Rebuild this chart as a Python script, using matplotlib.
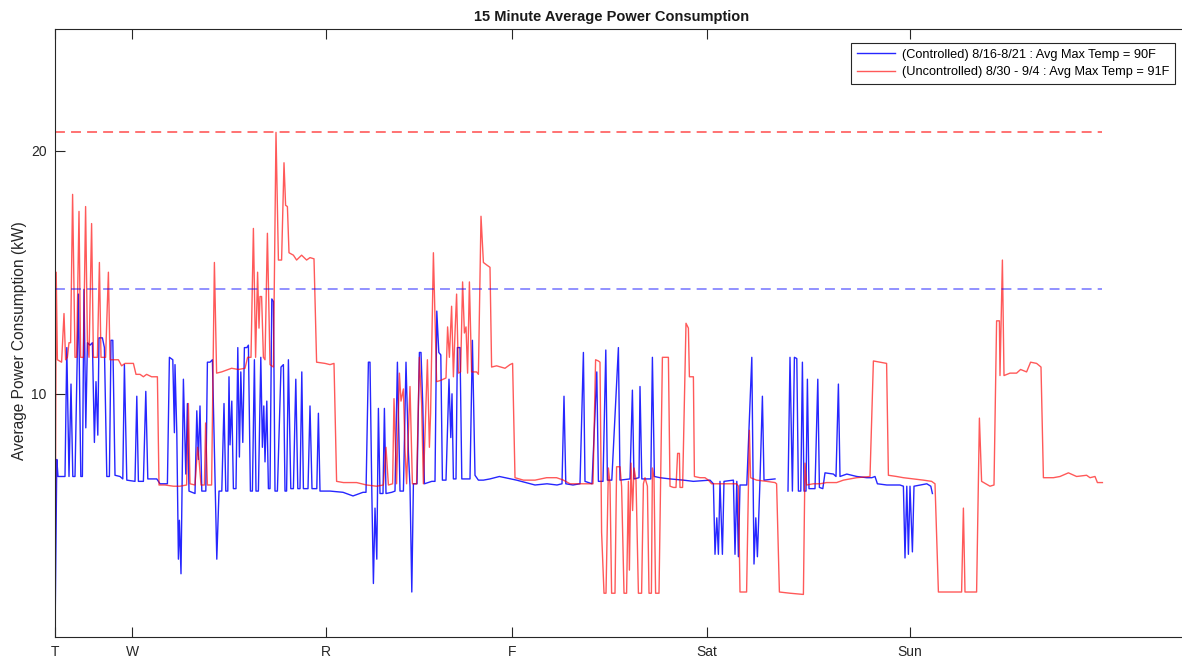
import matplotlib
matplotlib.use("Agg")
import matplotlib.pyplot as plt
import numpy as np

# x = 15 minute sample number, y = average power (kW)
blue_x = [0, 0.9, 1.5, 5, 5.9, 7, 8, 8.9, 10, 11.7, 12.9, 13.7, 14.5, 15.4, 16.2, 17.5, 18.7,
          19.7, 20.5, 21.4, 22, 23.7, 24.7, 25.9, 27.2, 28, 28.9, 30, 32.5, 33.9, 34.7, 35.9,
          40, 40.9, 41.7, 44.2, 45.4, 46.4, 50.9, 52.5, 56.2, 57.2, 58.9, 59.7, 60, 60.9,
          61.7, 62.2, 63, 64.2, 65.4, 66.2, 67, 70, 70.9, 71.7, 72.5, 73.4, 75.4, 76.2, 77.5,
          78.7, 80.9, 82, 83.4, 84.5, 85.4, 86.4, 87, 87.5, 88.4, 89.2, 90.5, 91.4, 92.2,
          92.9, 93.9, 94.7, 95.9, 96.7, 97.7, 98.7, 99.7, 100.5, 101.7, 102.9, 103.7, 104.4,
          105, 105.9, 106.7, 107.5, 108.4, 109.2, 110, 111.2, 113, 114.2, 115, 115.8, 116.7,
          117.9, 119.2, 120.4, 121.4, 122.5, 123.4, 124.2, 126.5, 127.5, 128.5, 130.9, 131.7,
          132.5, 137.5, 144, 149, 154, 155.5, 156.7, 157.5, 158.4, 159.2, 160, 160.9, 161.7,
          162.5, 164, 164.7, 165.5, 168.4, 170, 171.2, 172.5, 174.2, 175.5, 176.7, 177.5,
          178.4, 179.2, 181, 182.2, 183, 183.9, 184.7, 188.4, 190, 190.9, 191.9, 192.9,
          193.7, 195.5, 197, 197.9, 198.5, 199.2, 200.5, 201.2, 202.5, 203.4, 207.5, 208.7,
          210, 211.7, 214.2, 217.5, 222.2, 230.8, 240, 246, 251, 253.5, 254.5, 255.4, 259,
          262.5, 264.2, 265, 268.5, 270.9, 271.7, 274, 275.4, 276.2, 278.4, 281.7, 282.5,
          287.5, 288.7, 289.5, 292, 292.5, 293.4, 297.9, 298.7, 299.7, 302.5, 307.5, 314.2,
          319.2, 327.5, 329.2, 330, 330.9, 331.7, 332.5, 333.7, 334.5, 339.2, 340, 340.9,
          341.7, 342.5, 345.9, 348.4, 349.5, 350.4, 351.2, 352.5, 353.7, 354.5, 360, 363,
          366.5, 367.5, 368.7, 369.7, 370.9, 371.7, 372.9, 373.7, 374.5, 375.5, 376.2, 377,
          380, 381.4, 382.2, 383.9, 385, 389.2, 390.5, 391.7, 392.5, 395.9, 400.9, 405.9,
          408.4, 410, 411.2, 415.9, 422.5, 424.2, 425, 425.9, 426.7, 427.5, 428.7, 429.5,
          435.9, 437.9, 438.7]
blue_y = [0, 7.3, 6.6, 6.6, 11.9, 6.6, 10.4, 6.6, 6.6, 14.1, 6.6, 6.6, 14.3, 8.6, 12.1, 12.0, 12.1,
          8.0, 10.5, 8.3, 12.3, 12.3, 11.9, 6.6, 6.6, 12.2, 12.2, 6.65, 6.6, 6.5, 11.2, 6.45,
          6.4, 9.9, 6.4, 6.4, 10.1, 6.5, 6.5, 6.3, 6.3, 11.5, 11.4, 8.4, 11.2, 8.4,
          3.2, 4.8, 2.6, 10.6, 6.7, 9.6, 6.0, 5.9, 9.3, 7.3, 9.5, 6.0, 6.0, 11.3, 11.3,
          11.4, 3.2, 6.0, 6.0, 9.6, 6.0, 6.0, 10.7, 7.9, 9.7, 6.1, 6.1, 11.9, 7.4,
          10.9, 8.0, 11.9, 11.9, 12.0, 6.0, 6.0, 11.4, 6.0, 6.0, 11.5, 7.8, 9.5,
          7.2, 9.7, 6.1, 6.1, 13.9, 13.8, 6.0, 6.0, 11.1, 11.2, 6.0, 6.0, 11.4,
          6.1, 6.1, 10.6, 6.1, 6.1, 10.9, 6.1, 6.1, 9.5, 6.1, 6.1, 9.2,
          6.0, 6.0, 5.95, 5.8, 5.95, 5.95, 11.3, 11.3, 6.0, 2.2, 5.3, 3.2, 9.4,
          5.9, 5.9, 9.4, 5.9, 5.95, 6.0, 11.3, 6.0, 6.0, 11.3, 7.6, 6.2,
          1.85, 6.3, 6.3, 11.7, 11.7, 9.5, 6.3, 6.4, 6.4, 13.4, 11.7, 11.6,
          6.45, 6.45, 10.6, 8.2, 10.0, 6.5, 6.5, 11.9, 11.9, 6.5, 6.5, 12.2,
          6.65, 6.45, 6.45, 6.5, 6.6, 6.45, 6.25, 6.3, 6.25, 6.3, 9.9, 6.3, 6.25,
          6.3, 11.7, 6.4, 6.3, 10.9, 6.4, 6.4, 11.8, 6.45, 6.45, 11.9, 6.45,
          6.5, 10.15, 6.5, 6.55, 10.3, 6.5, 6.5, 11.5, 6.6, 6.55, 6.5, 6.45,
          6.4, 6.45, 6.3, 3.4, 4.9, 3.4, 6.4, 3.4, 6.4, 6.45, 3.4, 6.4,
          3.3, 6.25, 6.25, 11.5, 3.0, 4.9, 3.3, 6.45, 9.9, 6.45, 6.5, np.nan,
          6.0, 11.5, 6.0, 11.5, 11.45, 6.0, 6.0, 11.3, 6.0, 6.0, 10.6, 6.1,
          6.1, 10.6, 6.15, 6.1, 6.75, 6.7, 6.6, 10.4, 6.6, 6.7, 6.6, 6.55,
          6.55, 6.6, 6.3, 6.25, 6.25, 6.2, 3.25, 6.2, 3.4, 6.2, 3.5, 6.2,
          6.3, 6.2, 5.9]

red_x = [0, 0.6, 1.2, 3.3, 4.5, 5.3, 6.2, 7, 7.8, 8.8, 10, 10.8, 12, 12.8, 14.2, 15.3, 16.2, 17,
         17.5, 18.3, 19.2, 21.2, 22.2, 23, 25.3, 26.7, 27.5, 31.7, 33.3, 35, 39.2, 40.5, 42.5,
         44.2, 45.8, 48.3, 51.2, 52, 55, 59.2, 62.5, 65.8, 66.7, 67.5, 70, 71.3, 72, 73, 74.7,
         75.3, 76.2, 78.3, 79.7, 80.8, 83.3, 85, 88.3, 91.7, 95, 96.3, 98, 99.2, 100.3, 101.3,
         102, 102.5, 103.3, 104.2, 105, 106.2, 107.5, 109.2, 110.5, 111.7, 113.3, 114.5, 115.3,
         116.2, 117, 119.2, 120.8, 123.3, 125.8, 127.5, 129.5, 130.8, 135, 137.5, 139.5, 140.8,
         144.2, 150.8, 155.8, 160.8, 164.2, 165.5, 166.7, 168.8, 169.5, 170.8, 172.2, 173,
         174.2, 175, 175.8, 177.5, 178.7, 180.8, 182.2, 183.3, 184.2, 186.2, 187.2, 187.8,
         189.2, 190.8, 192.8, 195.5, 196.3, 197.2, 198.3, 199.2, 200, 200.8, 201.7, 202.8,
         203.8, 204.7, 205.5, 206.3, 207.2, 208.3, 210.8, 211.7, 213, 214.2, 215.8, 217.5,
         218.3, 220.8, 225, 227.5, 228.8, 230, 234.2, 240, 245.8, 250.8, 254.2, 257.5, 262.5,
         269, 270.3, 271.7, 272.5, 273.3, 274.5, 275.5, 276.7, 277.5, 278.3, 280, 280.8,
         282.5, 283.3, 284.5, 285.8, 286.7, 287.2, 288, 288.8, 289.5, 290.5, 291.7, 293.3,
         294.2, 295, 296.2, 297, 298.2, 298.7, 299.5, 300.3, 302, 303.7, 306.7, 307.5, 309.2,
         310.5, 311.3, 312.2, 312.5, 313.8, 315.5, 316.7, 317.2, 319.2, 319.7, 322.5, 325,
         326.7, 328.3, 334.2, 340.8, 341.7, 342.5, 345.8, 346.7, 347.2, 347.8, 350.8, 355.8,
         360, 360.8, 362.2, 367.5, 374.2, 375, 375.8, 379.2, 382.5, 385.8, 390.8, 394.2,
         400.8, 407.5, 409.2, 412.5, 415.8, 416.7, 420.8, 424.2, 429.2, 434.2, 438.3, 440,
         441.7, 453.3, 454.2, 455, 460.8, 462.2, 463.3, 467.5, 469.5, 470.8, 472.2, 472.5,
         473.7, 474.5, 477.5, 480.8, 482.8, 485.8, 487.8, 490.8, 493, 494.2, 499.2, 502.5,
         506.7, 510.8, 515.8, 517.5, 520, 521.2, 523.7]
red_y = [0, 15.0, 11.4, 11.3, 13.3, 11.4, 11.5, 12.1, 12.1, 18.2, 11.5, 11.5, 17.5, 11.5, 11.5,
         17.7, 12.2, 11.5, 13.6, 17.0, 11.5, 11.5, 15.4, 11.5, 11.5, 15.0, 11.4, 11.4, 11.15,
         11.25, 11.25, 10.8, 10.8, 10.7, 10.8, 10.7, 10.7, 6.25, 6.25, 6.2, 6.2, 6.25, 9.6,
         6.3, 6.25, 7.8, 7.3, 6.25, 6.25, 8.8, 6.25, 6.25, 15.4, 10.85, 10.9, 10.95, 11.05,
         11.0, 11.05, 11.5, 11.5, 16.8, 11.5, 15.0, 12.7, 14.0, 14.0, 11.5, 11.4, 16.6, 11.2,
         11.1, 20.75, 15.5, 15.5, 19.5, 17.75, 17.7, 15.8, 15.7, 15.5, 15.7, 15.5, 15.6,
         15.55, 11.3, 11.25, 11.2, 11.25, 6.4, 6.35, 6.35, 6.25, 6.2, 6.25, 7.8, 6.25, 6.3,
         9.8, 6.3, 10.85, 9.7, 10.2, 7.7, 6.3, 10.3, 6.3, 6.3, 11.5, 9.6, 6.3, 11.4, 7.8,
         9.2, 15.8, 10.5, 10.55, 10.65, 12.75, 11.5, 13.6, 10.7, 12.5, 14.1, 10.85, 10.9,
         14.6, 12.5, 12.75, 10.85, 14.6, 10.9, 10.9, 10.8, 17.3, 15.4, 15.3, 15.2, 11.1,
         11.15, 11.05, 11.2, 11.25, 6.55, 6.45, 6.45, 6.55, 6.55, 6.45, 6.3, 6.3, 6.3, 11.4,
         11.35, 11.3, 4.3, 1.8, 1.8, 6.95, 6.3, 1.8, 1.8, 7.0, 7.0, 6.2, 1.8, 1.8, 6.4,
         2.75, 7.15, 5.2, 6.95, 6.45, 1.8, 1.8, 6.3, 6.55, 6.2, 1.8, 1.8, 6.95, 6.55, 1.8,
         1.8, 11.5, 11.5, 6.2, 6.15, 6.15, 7.55, 7.55, 6.15, 6.15, 12.9, 12.7, 10.7, 10.7,
         6.6, 6.55, 6.55, 6.45, 6.3, 6.3, 6.3, 6.2, 1.85, 1.85, 6.3, 8.5, 6.55, 6.45, 6.4,
         6.35, 6.3, 1.85, 1.8, 1.75, 7.15, 6.25, 6.3, 6.3, 6.35, 6.35, 6.45, 6.55, 6.6,
         11.35, 11.3, 11.25, 6.65, 6.6, 6.55, 6.5, 6.45, 6.4, 6.3, 1.85, 1.85, 5.3, 1.85,
         1.85, 9.0, 6.4, 6.2, 6.25, 13.0, 13.0, 10.75, 15.5, 10.75, 10.85, 10.85, 11.0, 10.9,
         11.3, 11.25, 11.1, 6.55, 6.55, 6.6, 6.75, 6.6, 6.65, 6.55, 6.6, 6.35, 6.35]

day_ticks = [0, 38.5, 135.5, 228.5, 326, 427.5]
day_labels = ["T", "W", "R", "F", "Sat", "Sun"]

blue_label = "(Controlled) 8/16-8/21 : Avg Max Temp = 90F"
red_label = "(Uncontrolled) 8/30 - 9/4 : Avg Max Temp = 91F"

plt.rcParams["font.family"] = ["Liberation Sans", "DejaVu Sans"]

fig = plt.figure(figsize=(11.82, 6.6), dpi=100)
W, H = 1182, 660
ax = fig.add_axes([55 / W, (660 - 637) / H, 1152 / W, (637 - 29) / H])

ax.plot(blue_x, blue_y, color="blue", lw=1.0, alpha=0.85, label=blue_label)
ax.plot(red_x, red_y, color="red", lw=1.0, alpha=0.65, label=red_label)

xend = red_x[-1]
ax.plot([0, xend], [np.nanmax(red_y)] * 2, color="red", alpha=0.7, lw=1.1, dashes=(6.5, 4))
ax.plot([0, xend], [np.nanmax(blue_y)] * 2, color="blue", alpha=0.55, lw=1.1, dashes=(6.5, 4))

ax.set_xlim(0, 576)
ax.set_ylim(0, 25)
ax.set_xticks(day_ticks)
ax.set_xticklabels(day_labels)
ax.set_yticks([10, 20])
ax.tick_params(direction="in", length=7, width=0.8, top=True, right=True,
               labelsize=10, colors="#262626", pad=6)
for s in ax.spines.values():
    s.set_color("#262626")
    s.set_linewidth(0.8)

ax.set_ylabel("Average Power Consumption (kW)", fontsize=11.2, color="#262626")
ax.yaxis.set_label_coords(-28 / 1152, 0.487)
fig.text(612 / W, 1 - 17 / H, "15 Minute Average Power Consumption", ha="center",
         va="center", fontsize=10.5, fontweight="bold", color="#1a1a1a")

leg = ax.legend(loc="upper right", bbox_to_anchor=(1175 / W, 1 - 43 / H),
                bbox_transform=fig.transFigure, fontsize=9.2, fancybox=False,
                edgecolor="#262626", framealpha=1, borderpad=0.45, handlelength=3.0,
                handletextpad=0.5, labelspacing=0.45, borderaxespad=0)
leg.get_frame().set_linewidth(0.8)

fig.savefig("out.png", dpi=100)
